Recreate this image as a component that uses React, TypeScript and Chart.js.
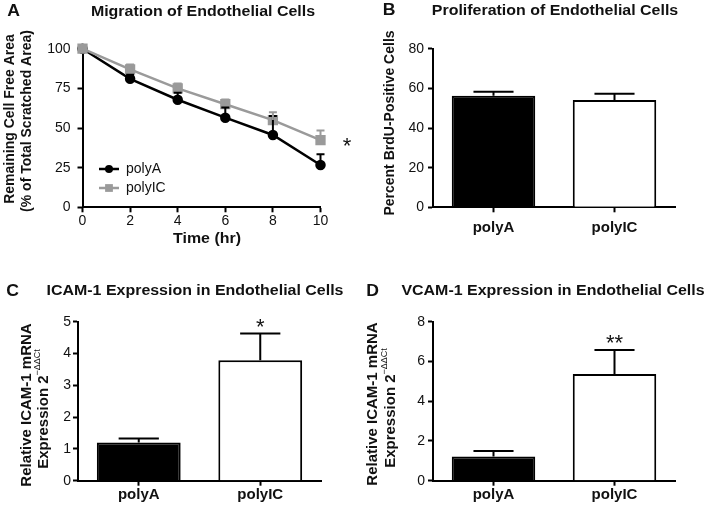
import React, { useEffect, useRef } from 'react';
import { Chart, registerables } from 'chart.js';

Chart.register(...registerables);

const FONT = "'Liberation Sans', Arial, Helvetica, sans-serif";
const INK = '#111111';
const GREY = '#9a9a9a';

// ---- Panel A: migration (time course) ----
const timeHours = [0, 2, 4, 6, 8, 10];
const polyAArea = [100, 81, 67.8, 56.5, 45.6, 26.7];
const polyAAreaErr = [0, 2.5, 4.5, 6.5, 12, 6.7];
const polyICArea = [100, 87, 75, 65, 55, 42.4];
const polyICAreaErr = [0, 3, 3, 3, 5, 6];

// ---- Panels B, C, D: bars ----
const groups = ['polyA', 'polyIC'];
const brduPositive = [56.3, 54.1];
const brduPositiveErr = [2, 3.2];
const icamExpression = [1.2, 3.79];
const icamExpressionErr = [0.13, 0.84];
const icamMarks = ['', '*'];
const vcamExpression = [1.22, 5.37];
const vcamExpressionErr = [0.27, 1.21];
const vcamMarks = ['', '**'];

const f = (size: number, bold = false) => `${bold ? 'bold ' : ''}${size}px ${FONT}`;

type Part = { t: string; font: string; dy?: number };
type Label = { parts: Part[]; x: number; y: number; rot?: number; sx?: number; align?: 'center' | 'left' };

function drawLabel(ctx: CanvasRenderingContext2D, L: Label) {
  ctx.save();
  ctx.translate(L.x, L.y);
  if (L.rot) ctx.rotate(L.rot);
  ctx.scale(L.sx ?? 1, 1);
  let total = 0;
  const widths = L.parts.map((p) => {
    ctx.font = p.font;
    const w = ctx.measureText(p.t).width;
    total += w;
    return w;
  });
  let cx = L.align === 'left' ? 0 : -total / 2;
  ctx.fillStyle = INK;
  ctx.textBaseline = 'middle';
  ctx.textAlign = 'left';
  L.parts.forEach((p, i) => {
    ctx.font = p.font;
    ctx.fillText(p.t, cx, p.dy ?? 0);
    cx += widths[i];
  });
  ctx.restore();
}

function makeErrorBars(o: { errors: number[][]; colors: string[]; lineWidth: number; cap?: number; capFrac?: number; marks?: string[] }) {
  return {
    id: 'errorBars',
    afterDatasetsDraw(chart: any) {
      const ctx: CanvasRenderingContext2D = chart.ctx;
      const yScale = chart.scales.y;
      chart.data.datasets.forEach((ds: any, di: number) => {
        const errs = o.errors[di];
        if (!errs) return;
        const meta = chart.getDatasetMeta(di);
        ctx.save();
        ctx.strokeStyle = o.colors[di];
        ctx.lineWidth = o.lineWidth;
        meta.data.forEach((el: any, i: number) => {
          const raw = ds.data[i];
          const val = typeof raw === 'number' ? raw : raw.y;
          const e = errs[i];
          const x = el.x;
          const top = yScale.getPixelForValue(val + e);
          if (e) {
            const cap = o.cap ?? (el.width || 10) * (o.capFrac ?? 0.5);
            ctx.beginPath();
            ctx.moveTo(x, el.y);
            ctx.lineTo(x, top);
            ctx.moveTo(x - cap / 2, top);
            ctx.lineTo(x + cap / 2, top);
            ctx.stroke();
          }
          const mark = o.marks ? o.marks[i] : '';
          if (mark) {
            drawLabel(ctx, { parts: [{ t: mark, font: f(22) }], x, y: top - 6 });
          }
        });
        ctx.restore();
      });
    },
  };
}

function makeDecor(labels: Label[], legend?: { x: number; y: number; dy: number; len: number; gap: number }) {
  return {
    id: 'decor',
    afterDraw(chart: any) {
      const ctx: CanvasRenderingContext2D = chart.ctx;
      labels.forEach((L) => drawLabel(ctx, L));
      if (legend) {
        chart.data.datasets.forEach((ds: any, i: number) => {
          const y = legend.y + i * legend.dy;
          const x0 = legend.x;
          const x1 = legend.x + legend.len;
          const xm = (x0 + x1) / 2;
          ctx.save();
          ctx.strokeStyle = ds.borderColor;
          ctx.lineWidth = ds.borderWidth;
          ctx.beginPath();
          ctx.moveTo(x0, y);
          ctx.lineTo(x1, y);
          ctx.stroke();
          ctx.fillStyle = ds.backgroundColor;
          ctx.beginPath();
          if (ds.pointStyle === 'rect') {
            const s = Math.SQRT1_2 * ds.pointRadius;
            ctx.rect(xm - s, y - s, 2 * s, 2 * s);
          } else {
            ctx.arc(xm, y, ds.pointRadius, 0, Math.PI * 2);
          }
          ctx.fill();
          ctx.restore();
          drawLabel(ctx, { parts: [{ t: ds.label, font: f(14) }], x: x1 + legend.gap, y, align: 'left' });
        });
      }
    },
  };
}

const tickGrid = { drawOnChartArea: false, drawTicks: true, tickLength: 5, tickWidth: 2, tickColor: '#000' };
const axisBorder = { display: true, color: '#000', width: 2 };

type Area = { l: number; r: number; t: number; b: number };

function makeA(w: number, h: number) {
  const area: Area = { l: 82.5, r: 320.5, t: 48.7, b: 207.3 };
  const labels: Label[] = [
    { parts: [{ t: 'A', font: f(16, true) }], x: 13.5, y: 11.5, sx: 1.1 },
    { parts: [{ t: 'Migration of Endothelial Cells', font: f(14.5, true) }], x: 203, y: 11.5, sx: 1.1 },
    { parts: [{ t: 'Time (hr)', font: f(14.5, true) }], x: 207, y: 239, sx: 1.1 },
    { parts: [{ t: 'Remaining Cell Free Area', font: f(14, true) }], x: 10, y: 119, rot: -Math.PI / 2 },
    { parts: [{ t: '(% of Total Scratched Area)', font: f(14, true) }], x: 27.5, y: 121, rot: -Math.PI / 2 },
    { parts: [{ t: '*', font: f(22) }], x: 347, y: 147 },
  ];
  return {
    type: 'line',
    data: {
      datasets: [
        {
          label: 'polyA',
          data: timeHours.map((x, i) => ({ x, y: polyAArea[i] })),
          borderColor: '#000000',
          backgroundColor: '#000000',
          pointBackgroundColor: '#000000',
          pointBorderColor: '#000000',
          pointStyle: 'circle',
          pointRadius: 4,
          borderWidth: 2.5,
          clip: false,
          order: 1,
        },
        {
          label: 'polyIC',
          data: timeHours.map((x, i) => ({ x, y: polyICArea[i] })),
          borderColor: GREY,
          backgroundColor: GREY,
          pointBackgroundColor: GREY,
          pointBorderColor: GREY,
          pointStyle: 'rect',
          pointRadius: 5.5,
          borderWidth: 2.5,
          clip: false,
          order: 0,
        },
      ],
    },
    options: {
      responsive: false,
      animation: false,
      events: [],
      layout: { padding: { left: 0, top: area.t, right: w - area.r, bottom: 0 } },
      scales: {
        x: {
          type: 'linear',
          min: 0,
          max: 10,
          ticks: { stepSize: 2, font: { family: FONT, size: 14 }, color: INK, padding: 0, maxRotation: 0 },
          grid: tickGrid,
          border: axisBorder,
          afterFit: (s: any) => { s.height = h - area.b; },
        },
        y: {
          min: 0,
          max: 100,
          ticks: { stepSize: 25, font: { family: FONT, size: 14 }, color: INK, padding: 7 },
          grid: tickGrid,
          border: axisBorder,
          afterFit: (s: any) => { s.width = area.l; },
        },
      },
      plugins: { legend: { display: false }, tooltip: { enabled: false }, title: { display: false } },
    },
    plugins: [
      makeErrorBars({ errors: [polyAAreaErr, polyICAreaErr], colors: ['#000000', GREY], lineWidth: 2, cap: 8 }),
      makeDecor(labels, { x: 99, y: 169, dy: 19, len: 20, gap: 7 }),
    ],
  };
}

function barConfig(o: {
  w: number; h: number; area: Area; values: number[]; errs: number[]; marks?: string[];
  yMax: number; yStep: number; yPad: number; xPad: number; labels: Label[];
}) {
  return {
    type: 'bar',
    data: {
      labels: groups,
      datasets: [
        {
          data: o.values,
          backgroundColor: ['#000000', '#ffffff'],
          borderColor: '#000000',
          borderWidth: 2,
          borderSkipped: 'start',
          barPercentage: 0.69,
          categoryPercentage: 1,
        },
      ],
    },
    options: {
      responsive: false,
      animation: false,
      events: [],
      layout: { padding: { left: 0, top: o.area.t, right: o.w - o.area.r, bottom: 0 } },
      scales: {
        x: {
          type: 'category',
          offset: true,
          grid: { ...tickGrid, offset: false },
          border: axisBorder,
          ticks: { font: { family: FONT, size: 15, weight: 'bold' }, color: INK, padding: o.xPad },
          afterFit: (s: any) => { s.height = o.h - o.area.b; },
        },
        y: {
          min: 0,
          max: o.yMax,
          ticks: { stepSize: o.yStep, font: { family: FONT, size: 14 }, color: INK, padding: o.yPad },
          grid: tickGrid,
          border: axisBorder,
          afterFit: (s: any) => { s.width = o.area.l; },
        },
      },
      plugins: { legend: { display: false }, tooltip: { enabled: false }, title: { display: false } },
    },
    plugins: [
      makeErrorBars({ errors: [o.errs], colors: ['#000000'], lineWidth: 2, capFrac: 0.48, marks: o.marks }),
      makeDecor(o.labels),
    ],
  };
}

function makeB(w: number, h: number) {
  return barConfig({
    w, h,
    area: { l: 73, r: 315, t: 48.7, b: 207.3 },
    values: brduPositive, errs: brduPositiveErr,
    yMax: 80, yStep: 20, yPad: 4, xPad: 7,
    labels: [
      { parts: [{ t: 'B', font: f(16, true) }], x: 29, y: 11, sx: 1.1 },
      { parts: [{ t: 'Proliferation of Endothelial Cells', font: f(14.5, true) }], x: 195, y: 11, sx: 1.1 },
      { parts: [{ t: 'Percent BrdU-Positive Cells', font: f(14, true) }], x: 30, y: 123, rot: -Math.PI / 2 },
    ],
  });
}

function exprLabel(x: number, y: number): Label {
  return {
    parts: [
      { t: 'Expression 2', font: f(15, true) },
      { t: '\u2212\u0394\u0394Ct', font: f(9), dy: -6 },
    ],
    x, y, rot: -Math.PI / 2,
  };
}

function makeC(w: number, h: number) {
  return barConfig({
    w, h,
    area: { l: 78, r: 321, t: 66.7, b: 225.7 },
    values: icamExpression, errs: icamExpressionErr, marks: icamMarks,
    yMax: 5, yStep: 1, yPad: 2, xPad: 0,
    labels: [
      { parts: [{ t: 'C', font: f(16, true) }], x: 12.5, y: 37, sx: 1.1 },
      { parts: [{ t: 'ICAM-1 Expression in Endothelial Cells', font: f(14.5, true) }], x: 195, y: 36, sx: 1.1 },
      { parts: [{ t: 'Relative ICAM-1 mRNA', font: f(15, true) }], x: 27, y: 150, rot: -Math.PI / 2 },
      exprLabel(44, 154),
    ],
  });
}

function makeD(w: number, h: number) {
  return barConfig({
    w, h,
    area: { l: 73, r: 315, t: 66.7, b: 225.7 },
    values: vcamExpression, errs: vcamExpressionErr, marks: vcamMarks,
    yMax: 8, yStep: 2, yPad: 3, xPad: 0,
    labels: [
      { parts: [{ t: 'D', font: f(16, true) }], x: 12.5, y: 37, sx: 1.1 },
      { parts: [{ t: 'VCAM-1 Expression in Endothelial Cells', font: f(14.5, true) }], x: 193, y: 36, sx: 1.1 },
      { parts: [{ t: 'Relative ICAM-1 mRNA', font: f(15, true) }], x: 13, y: 149, rot: -Math.PI / 2 },
      exprLabel(31, 153),
    ],
  });
}

function Panel({ x, y, w, h, make }: { x: number; y: number; w: number; h: number; make: (w: number, h: number) => any }) {
  const ref = useRef<HTMLCanvasElement>(null);
  useEffect(() => {
    const chart = new Chart(ref.current as HTMLCanvasElement, make(w, h));
    return () => chart.destroy();
  }, []);
  return (
    <canvas
      ref={ref}
      width={w}
      height={h}
      style={{ position: 'absolute', left: x, top: y, width: w, height: h, display: 'block' }}
    />
  );
}

export default function App() {
  return (
    <div style={{ position: 'absolute', left: 0, top: 0, width: 709, height: 510, background: '#ffffff', overflow: 'hidden' }}>
      <Panel x={0} y={0} w={360} h={255} make={makeA} />
      <Panel x={360} y={0} w={349} h={255} make={makeB} />
      <Panel x={0} y={255} w={360} h={255} make={makeC} />
      <Panel x={360} y={255} w={349} h={255} make={makeD} />
    </div>
  );
}
